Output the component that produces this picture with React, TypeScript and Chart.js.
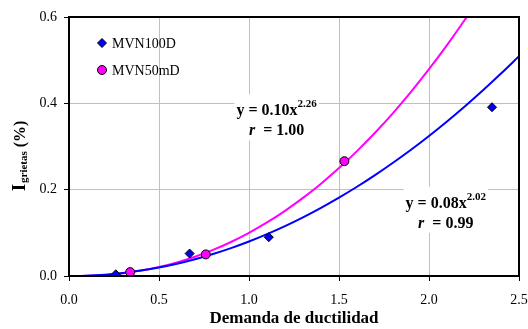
import React, { useEffect, useRef } from 'react';
import { Chart, registerables } from 'chart.js';

Chart.register(...registerables);

// ---- data ----
const seriesNames = ['MVN100D', 'MVN50mD'];
const mvn100dX = [0.26, 0.67, 1.11, 2.35];
const mvn100dY = [0.004, 0.052, 0.09, 0.391];
const mvn50mdX = [0.34, 0.76, 1.53];
const mvn50mdY = [0.009, 0.05, 0.266];

const fitX = [0, 0.1, 0.2, 0.3, 0.4, 0.5, 0.6, 0.7, 0.8, 0.9, 1.0, 1.1, 1.2, 1.3, 1.4, 1.5, 1.6, 1.7, 1.8, 1.9, 2.0, 2.1, 2.2, 2.3, 2.4, 2.5];
const fit100dY = [0, 0.0008, 0.0031, 0.007, 0.0126, 0.0197, 0.0285, 0.0389, 0.051, 0.0647, 0.08, 0.097, 0.1156, 0.1359, 0.1579, 0.1815, 0.2067, 0.2337, 0.2623, 0.2925, 0.3245, 0.3581, 0.3934, 0.4303, 0.469, 0.5092];
const fit50mdY = [0, 0.0006, 0.0026, 0.0066, 0.0126, 0.0209, 0.0315, 0.0447, 0.0604, 0.0788, 0.1, 0.124, 0.151, 0.1809, 0.2139, 0.25, 0.2893, 0.3318, 0.3775, 0.4266, 0.479, 0.5348, 0.5941, 0.657];

const xTickValues = [0, 0.5, 1.0, 1.5, 2.0, 2.5];
const yTickValues = [0, 0.2, 0.4, 0.6];

const eq100d = { coef: '0.08', exp: '2.02', r: '0.99' };
const eq50md = { coef: '0.10', exp: '2.26', r: '1.00' };

const xTitle = 'Demanda de ductilidad';
const yTitleMain = 'I';
const yTitleSub = 'grietas';
const yTitleRest = ' (%)';

const BLUE = '#0000ff';
const MAGENTA = '#ff00ff';
const SERIF = "'Liberation Serif', 'Times New Roman', serif";

const toPts = (xs: number[], ys: number[]) => ys.map((y, i) => ({ x: xs[i], y }));

function drawEquation(ctx: CanvasRenderingContext2D, left: number, base: number, eq: { coef: string; exp: string; r: string }) {
  ctx.save();
  ctx.fillStyle = '#000';
  ctx.textBaseline = 'alphabetic';
  ctx.textAlign = 'left';
  ctx.font = `bold 16px ${SERIF}`;
  const main = `y = ${eq.coef}x`;
  const wMain = ctx.measureText(main).width;
  ctx.font = `bold 11px ${SERIF}`;
  const wExp = ctx.measureText(eq.exp).width;
  const w1 = wMain + wExp;
  // white background box
  ctx.fillStyle = '#fff';
  ctx.fillRect(left - 2, base - 21, w1 + 4, 46);
  ctx.fillStyle = '#000';
  ctx.font = `bold 16px ${SERIF}`;
  ctx.fillText(main, left, base);
  ctx.font = `bold 11px ${SERIF}`;
  ctx.fillText(eq.exp, left + wMain, base - 8);
  // second line
  ctx.font = `italic bold 16px ${SERIF}`;
  const wr = ctx.measureText('r').width;
  ctx.font = `bold 16px ${SERIF}`;
  const rest = `  = ${eq.r}`;
  const wRest = ctx.measureText(rest).width;
  const total = wr + wRest;
  const cx = left + w1 / 2;
  const start = cx - total / 2;
  ctx.font = `italic bold 16px ${SERIF}`;
  ctx.fillText('r', start, base + 20);
  ctx.font = `bold 16px ${SERIF}`;
  ctx.fillText(rest, start + wr, base + 20);
  ctx.restore();
}

const decorPlugin = {
  id: 'decor',
  beforeDatasetsDraw(chart: any) {
    const ctx = chart.ctx as CanvasRenderingContext2D;
    const xs = chart.scales.x;
    const ys = chart.scales.y;
    // equations anchored to data coordinates
    drawEquation(ctx, xs.getPixelForValue(0.93), ys.getPixelForValue(0.372), eq50md);
    drawEquation(ctx, xs.getPixelForValue(1.87), ys.getPixelForValue(0.158), eq100d);
  },
  afterDraw(chart: any) {
    const ctx = chart.ctx as CanvasRenderingContext2D;
    const a = chart.chartArea;
    ctx.save();
    // frame
    ctx.strokeStyle = '#000';
    ctx.lineWidth = 2;
    ctx.strokeRect(a.left, a.top, a.right - a.left, a.bottom - a.top);

    // legend
    const lx = a.left + 33;
    const ly1 = a.top + 26;
    const ly2 = a.top + 53;
    ctx.lineWidth = 1;
    ctx.strokeStyle = '#000';
    ctx.fillStyle = BLUE;
    ctx.beginPath();
    ctx.moveTo(lx - 4.5, ly1);
    ctx.lineTo(lx, ly1 - 4.5);
    ctx.lineTo(lx + 4.5, ly1);
    ctx.lineTo(lx, ly1 + 4.5);
    ctx.closePath();
    ctx.fill();
    ctx.stroke();
    ctx.fillStyle = MAGENTA;
    ctx.beginPath();
    ctx.arc(lx, ly2, 4.5, 0, Math.PI * 2);
    ctx.fill();
    ctx.stroke();
    ctx.fillStyle = '#000';
    ctx.font = `14px ${SERIF}`;
    ctx.textAlign = 'left';
    ctx.textBaseline = 'middle';
    ctx.fillText(seriesNames[0], lx + 10, ly1 + 1);
    ctx.fillText(seriesNames[1], lx + 10, ly2 + 1);

    // x title
    ctx.font = `bold 17px ${SERIF}`;
    ctx.textAlign = 'center';
    ctx.textBaseline = 'alphabetic';
    ctx.fillText(xTitle, (a.left + a.right) / 2, 323);

    // y title (rotated, with subscript)
    ctx.translate(25, 191);
    ctx.rotate(-Math.PI / 2);
    ctx.textAlign = 'left';
    ctx.font = `bold 18px ${SERIF}`;
    ctx.fillText(yTitleMain, 0, 0);
    let off = ctx.measureText(yTitleMain).width + 1;
    ctx.font = `bold 11px ${SERIF}`;
    ctx.fillText(yTitleSub, off, 2);
    off += ctx.measureText(yTitleSub).width;
    ctx.font = `bold 16px ${SERIF}`;
    ctx.fillText(yTitleRest, off, 0);
    ctx.restore();
  },
};

export default function App() {
  const ref = useRef<HTMLCanvasElement | null>(null);
  useEffect(() => {
    document.body.style.margin = '0';
    const canvas = ref.current;
    if (!canvas) return;
    const chart = new Chart(canvas, {
      type: 'scatter',
      data: {
        datasets: [
          {
            label: seriesNames[0],
            data: toPts(mvn100dX, mvn100dY),
            pointStyle: 'rectRot',
            pointRadius: 4.5,
            pointBackgroundColor: BLUE,
            pointBorderColor: '#000',
            pointBorderWidth: 1,
            showLine: false,
            order: 0,
          },
          {
            label: seriesNames[1],
            data: toPts(mvn50mdX, mvn50mdY),
            pointStyle: 'circle',
            pointRadius: 4.5,
            pointBackgroundColor: MAGENTA,
            pointBorderColor: '#000',
            pointBorderWidth: 1,
            showLine: false,
            order: 0,
          },
          {
            label: 'fit100d',
            data: toPts(fitX, fit100dY),
            showLine: true,
            borderColor: BLUE,
            borderWidth: 2,
            pointRadius: 0,
            tension: 0.3,
            order: 1,
          },
          {
            label: 'fit50md',
            data: toPts(fitX, fit50mdY),
            showLine: true,
            borderColor: MAGENTA,
            borderWidth: 2,
            pointRadius: 0,
            tension: 0.3,
            order: 2,
          },
        ],
      },
      options: {
        animation: false,
        responsive: false,
        devicePixelRatio: 1,
        layout: { padding: { left: 0, right: 9, top: 17, bottom: 0 } },
        plugins: { legend: { display: false }, tooltip: { enabled: false } },
        scales: {
          x: {
            type: 'linear',
            min: 0,
            max: 2.5,
            afterFit: (s: any) => {
              s.height = 53;
              s.paddingLeft = 0;
              s.paddingRight = 0;
            },
            afterBuildTicks: (s: any) => {
              s.ticks = xTickValues.map((v) => ({ value: v }));
            },
            ticks: {
              color: '#000',
              font: { family: SERIF, size: 14 },
              padding: 11,
              maxRotation: 0,
              callback: (v: any) => Number(v).toFixed(1),
            },
            grid: { color: '#c0c0c0', lineWidth: 1, tickLength: 5, tickColor: '#000' },
            border: { display: false },
          },
          y: {
            type: 'linear',
            min: 0,
            max: 0.6,
            afterFit: (s: any) => {
              s.width = 69;
              s.paddingTop = 0;
              s.paddingBottom = 0;
            },
            afterBuildTicks: (s: any) => {
              s.ticks = yTickValues.map((v) => ({ value: v }));
            },
            ticks: {
              color: '#000',
              font: { family: SERIF, size: 14 },
              padding: 7,
              callback: (v: any) => Number(v).toFixed(1),
            },
            grid: { color: '#c0c0c0', lineWidth: 1, tickLength: 5, tickColor: '#000' },
            border: { display: false },
          },
        },
      },
      plugins: [decorPlugin],
    });
    return () => chart.destroy();
  }, []);
  return <canvas ref={ref} width={528} height={329} style={{ display: 'block' }} />;
}
